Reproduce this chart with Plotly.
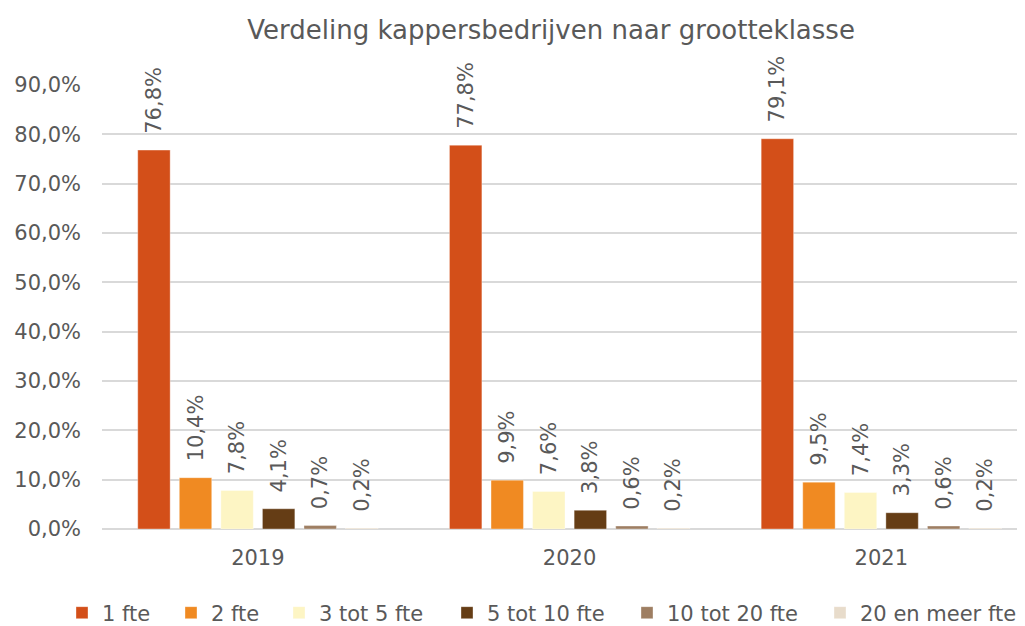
import plotly.graph_objects as go

years = ["2019", "2020", "2021"]
series_names = ["1 fte", "2 fte", "3 tot 5 fte", "5 tot 10 fte", "10 tot 20 fte", "20 en meer fte"]
values = {
    "1 fte": [76.8, 77.8, 79.1],
    "2 fte": [10.4, 9.9, 9.5],
    "3 tot 5 fte": [7.8, 7.6, 7.4],
    "5 tot 10 fte": [4.1, 3.8, 3.3],
    "10 tot 20 fte": [0.7, 0.6, 0.6],
    "20 en meer fte": [0.2, 0.2, 0.2],
}
colors = ["#D34F19", "#F08A22", "#FDF5C4", "#653D15", "#9E7E62", "#E8DCCB"]

FONT = "DejaVu Sans"
GREY = "#595959"
OFF = 8  # page body margin
W, H = 1025 - OFF, 626 - OFF
L, R, T, B = 102 - OFF, 0, 85 - OFF, H - (529 - OFF)
PW = W - L - R
PH = H - T - B

# page x of each legend entry's text start in the reference
legend_text_px = [102, 211, 319, 487, 667, 860]

fig = go.Figure()
layout_legends = {}
for i, (name, col) in enumerate(zip(series_names, colors)):
    vals = [v / 100 for v in values[name]]
    lg = "legend" if i == 0 else f"legend{i + 1}"
    fig.add_trace(go.Bar(
        x=years, y=vals, name=name, legend=lg, showlegend=True,
        marker=dict(color=col, line=dict(color="rgba(255,255,255,0.35)", width=1)),
        text=["\u00a0\u00a0" + f"{v:.1f}%".replace(".", ",") for v in values[name]],
        textposition="outside", textangle=-90, constraintext="none",
        textfont=dict(family=FONT, size=21, color=GREY),
        cliponaxis=False,
    ))
    xpx = legend_text_px[i] - 48
    layout_legends[lg] = dict(
        orientation="h", x=(xpx - L) / PW, xanchor="left",
        y=-((613 - OFF) - (H - B)) / PH, yanchor="middle",
        font=dict(family=FONT, size=21, color=GREY),
        itemwidth=30, bgcolor="rgba(0,0,0,0)", borderwidth=0,
    )

fig.update_layout(
    width=W, height=H, showlegend=True,
    margin=dict(l=L, r=R, t=T, b=B, autoexpand=False),
    paper_bgcolor="white", plot_bgcolor="white",
    barmode="group", bargap=0.2, bargroupgap=0.22,
    separators=",.",
    title=dict(text="Verdeling kappersbedrijven naar grootteklasse",
               x=0.534, xanchor="center", y=1 - 22 / H, yanchor="middle",
               font=dict(family=FONT, size=26, color=GREY)),
    font=dict(family=FONT, color=GREY, size=21),
    xaxis=dict(type="category", range=[-0.5, 2.461], showgrid=False, automargin=False,
               tickfont=dict(family=FONT, size=21, color=GREY), ticks="",
               ticklabelstandoff=14),
    yaxis=dict(range=[0, 0.9], dtick=0.1, tickformat=".1%", showgrid=True, automargin=False,
               gridcolor="#D9D9D9", gridwidth=1.5, zeroline=True, zerolinecolor="#D9D9D9",
               zerolinewidth=1.5,
               tickfont=dict(family=FONT, size=21, color=GREY), ticks="",
               ticklabelstandoff=20),
    **layout_legends,
)
fig.write_html("out.html")
